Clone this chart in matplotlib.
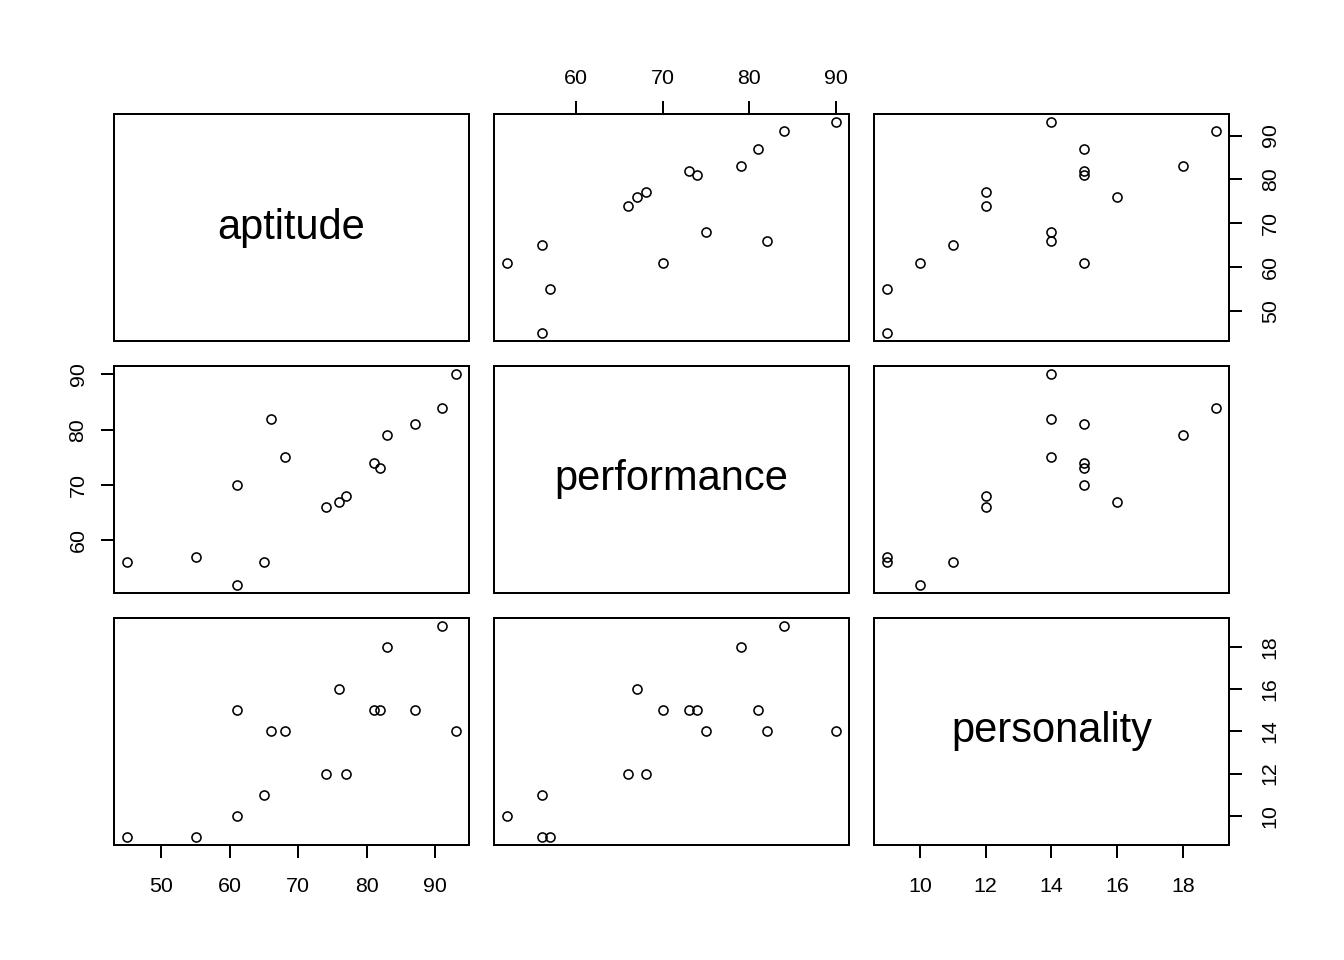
import matplotlib.pyplot as plt

plt.rcParams["font.family"] = ["Liberation Sans", "DejaVu Sans"]

names = ["aptitude", "performance", "personality"]
aptitude = [45, 55, 61, 61, 65, 66, 68, 74, 76, 77, 81, 82, 83, 87, 91, 93]
performance = [56, 57, 52, 70, 56, 82, 75, 66, 67, 68, 74, 73, 79, 81, 84, 90]
personality = [9, 9, 10, 15, 11, 14, 14, 12, 16, 12, 15, 15, 18, 15, 19, 14]
data = [aptitude, performance, personality]
ticks = [[50, 60, 70, 80, 90], [60, 70, 80, 90], [10, 12, 14, 16, 18]]


def padded(vals):
    lo, hi = min(vals), max(vals)
    ext = (hi - lo) * 0.04
    return lo - ext, hi + ext


fig, axes = plt.subplots(3, 3, figsize=(7, 5), dpi=192)
fig.subplots_adjust(left=0.0848, right=0.9144, bottom=0.1198, top=0.88125,
                    wspace=0.0704, hspace=0.110)

for i in range(3):
    for j in range(3):
        ax = axes[i, j]
        ax.set_xlim(padded(data[j]))
        ax.set_ylim(padded(data[i]))
        for s in ax.spines.values():
            s.set_linewidth(0.75)
        ax.tick_params(length=4.9, width=0.75, labelsize=8, pad=5)
        ax.set_xticks([])
        ax.set_yticks([])
        if i == j:
            ax.text(0.5, 0.5, names[i], transform=ax.transAxes,
                    ha="center", va="center", fontsize=15.6)
        else:
            ax.plot(data[j], data[i], "o", mfc="none", mec="black",
                    ms=3.4, mew=0.6)
        # axes alternate sides like R's pairs()
        if i == 2 and j % 2 == 0:
            ax.set_xticks(ticks[j])
            ax.tick_params(axis="x", pad=7.2)
        if i == 0 and j % 2 == 1:
            ax.set_xticks(ticks[j])
            ax.xaxis.tick_top()
        if j == 0 and i % 2 == 1:
            ax.set_yticks(ticks[i])
            for lab in ax.get_yticklabels():
                lab.set_rotation(90)
                lab.set_va("center")
        if j == 2 and i % 2 == 0:
            ax.set_yticks(ticks[i])
            ax.yaxis.tick_right()
            ax.tick_params(axis="y", pad=7)
            for lab in ax.get_yticklabels():
                lab.set_rotation(90)
                lab.set_va("center")

fig.savefig("out.png")
